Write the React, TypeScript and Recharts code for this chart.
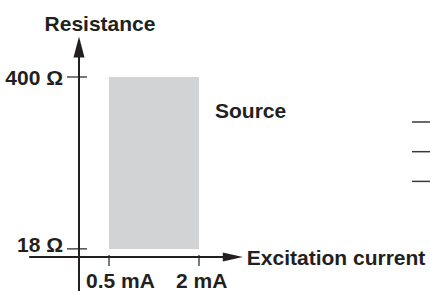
import { ComposedChart, XAxis, YAxis, Scatter, ReferenceArea, ReferenceLine } from 'recharts';

// excitation current (mA) and resistance (Ω) covered by the source
const sourceCurrent = [0.5, 2];
const sourceResistance = [18, 400];

const xTicks = [0.5, 2];
const xTickLabels = ['0.5 mA', '2 mA'];
const yTicks = [400, 18];
const yTickLabels = ['400 Ω', '18 Ω'];

// cut-off legend strokes at the right edge
const legendLevels = [300, 234, 168];

const INK = '#231f20';
const FONT = '"Liberation Sans", Arial, sans-serif';
const yLabelDy = [8, 3];

const xTickData = xTicks.map((x, i) => ({ x, y: 0, label: xTickLabels[i] }));
const yTickData = yTicks.map((y, i) => ({ x: 0, y, label: yTickLabels[i], dy: yLabelDy[i] }));
const arrowData = [
  { x: 2.73, y: 0, dir: 'right', title: 'Excitation current' },
  { x: 0, y: 490, dir: 'up', title: 'Resistance' },
];
const sourceLabel = [{ x: sourceCurrent[1], y: sourceResistance[1], label: 'Source' }];

const textStyle = { fontFamily: FONT, fontWeight: 700, fontSize: 21, fill: INK };

const XTick = (props: any) => {
  const { cx, cy, payload } = props;
  return (
    <g>
      <line x1={cx} x2={cx} y1={cy - 2} y2={cy + 9} stroke={INK} strokeWidth={1.2} />
      <text x={cx - 23} y={cy + 31} textAnchor="start" style={textStyle}>{payload.label}</text>
    </g>
  );
};

const YTick = (props: any) => {
  const { cx, cy, payload } = props;
  return (
    <g>
      <line x1={cx - 12} x2={cx + 8} y1={cy} y2={cy} stroke={INK} strokeWidth={1.2} />
      <text x={cx - 16} y={cy + payload.dy} textAnchor="end" style={textStyle}>{payload.label}</text>
    </g>
  );
};

const Arrow = (props: any) => {
  const { cx, cy, payload } = props;
  const up = payload.dir === 'up';
  const pts = up
    ? `${cx},${cy} ${cx - 5.5},${cy + 21} ${cx + 5.5},${cy + 21}`
    : `${cx},${cy} ${cx - 20},${cy - 4.5} ${cx - 20},${cy + 4.5}`;
  return (
    <g>
      <polygon points={pts} fill={INK} />
      <text
        x={up ? cx + 21 : cx + 4}
        y={up ? cy - 5 : cy + 8}
        textAnchor={up ? 'middle' : 'start'}
        style={textStyle}
      >
        {payload.title}
      </text>
    </g>
  );
};

const SourceText = (props: any) => {
  const { cx, cy, payload } = props;
  return (
    <text x={cx + 16} y={cy + 41} textAnchor="start" style={textStyle}>{payload.label}</text>
  );
};

export default function App() {
  return (
    <div style={{ position: 'absolute', left: 0, top: 0, width: 430, height: 291, background: '#fff' }}>
      <ComposedChart width={430} height={291} margin={{ top: 0, right: 0, bottom: 0, left: 0 }}>
        <XAxis type="number" dataKey="x" domain={[-1.3167, 5.85]} allowDataOverflow hide />
        <YAxis type="number" dataKey="y" domain={[-75.6, 571.1]} allowDataOverflow hide />
        <ReferenceArea
          x1={sourceCurrent[0]}
          x2={sourceCurrent[1]}
          y1={sourceResistance[0]}
          y2={sourceResistance[1]}
          fill="#d1d3d4"
          fillOpacity={1}
          stroke="none"
        />
        <ReferenceLine
          segment={[{ x: -0.83, y: 0 }, { x: 2.5, y: 0 }]}
          stroke={INK}
          strokeWidth={2}
          ifOverflow="visible"
        />
        <ReferenceLine
          segment={[{ x: 0, y: -75.6 }, { x: 0, y: 460 }]}
          stroke={INK}
          strokeWidth={2}
          ifOverflow="visible"
        />
        {legendLevels.map((lv) => (
          <ReferenceLine
            key={lv}
            segment={[{ x: 5.55, y: lv }, { x: 5.85, y: lv }]}
            stroke="#3a3a3a"
            strokeWidth={1.5}
            ifOverflow="visible"
          />
        ))}
        <Scatter data={xTickData} shape={XTick} isAnimationActive={false} />
        <Scatter data={yTickData} shape={YTick} isAnimationActive={false} />
        <Scatter data={arrowData} shape={Arrow} isAnimationActive={false} />
        <Scatter data={sourceLabel} shape={SourceText} isAnimationActive={false} />
      </ComposedChart>
    </div>
  );
}
